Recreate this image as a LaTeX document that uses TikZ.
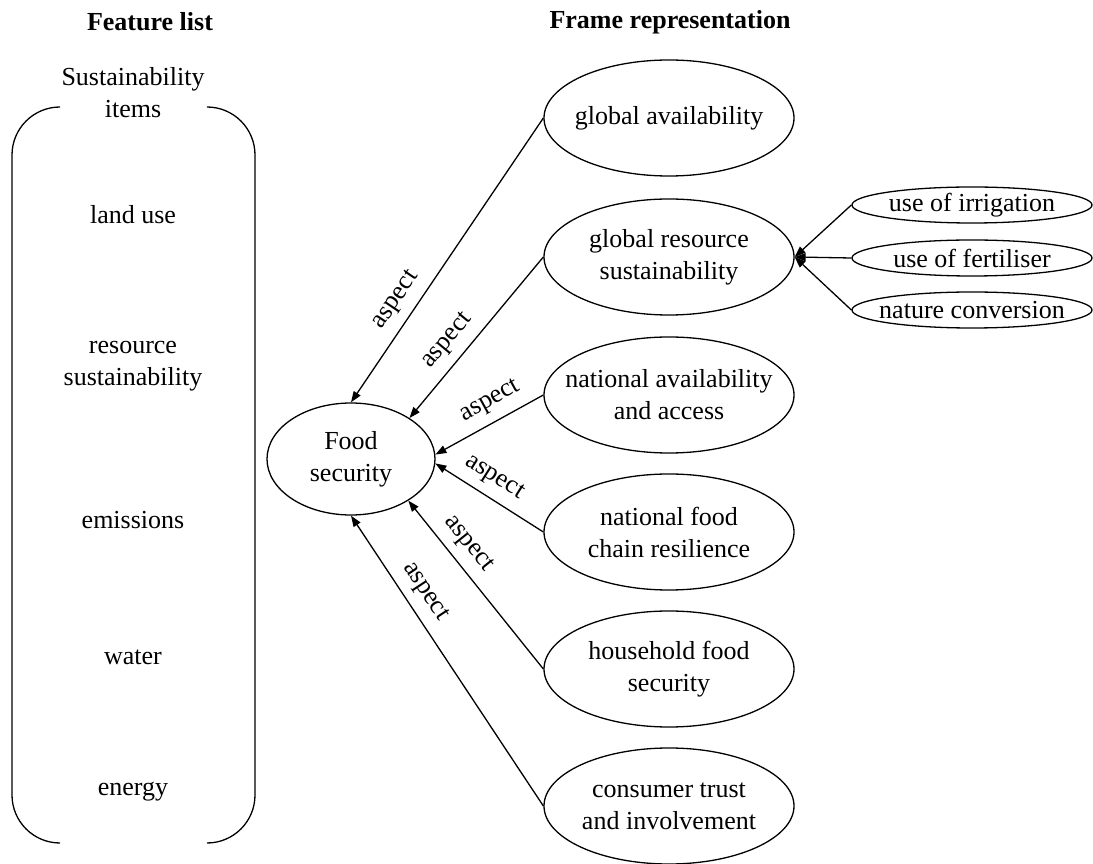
\documentclass[tikz,border=0pt]{standalone}
\usepackage{fontspec}
\setmainfont{Liberation Serif}
\usetikzlibrary{arrows.meta,shapes.geometric}
\begin{document}
\begin{tikzpicture}[x=1pt,y=1pt,
  every node/.style={font=\fontsize{26}{32}\selectfont},
  bigell/.style={draw, ellipse, line width=1.3pt, minimum width=250pt, minimum height=116pt, inner sep=0pt},
  foodell/.style={draw, ellipse, line width=1.3pt, minimum width=168pt, minimum height=112pt, inner sep=0pt},
  smallell/.style={draw, ellipse, line width=1.3pt, minimum width=240pt, minimum height=36pt, inner sep=0pt},
  txt/.style={align=center, inner sep=0pt},
  hdr/.style={font=\fontsize{26}{32}\selectfont\bfseries},
  arr/.style={line width=1.3pt, -{Triangle[length=11pt,width=8pt]}},
  lbl/.style={sloped, above=6pt, inner sep=3pt},
  brk/.style={line width=1.3pt}
]
\useasboundingbox (0,0) rectangle (1093,863);

% headers
\node[hdr] (h1) at (150,841) {Feature list};
\node[hdr] (h2) at (670,841) {Frame representation};

% feature list
\node[txt] (sust) at (133,770) {Sustainability\\items};
\node[txt] (land) at (133,648) {land use};
\node[txt] (res) at (133,497) {resource\\sustainability};
\node[txt] (emi) at (133,343) {emissions};
\node[txt] (wat) at (133,206) {water};
\node[txt] (ene) at (133,71) {energy};

% bracket
\draw[brk] (60,756) arc[start angle=90,end angle=180,radius=48] -- (12,68)
  arc[start angle=180,end angle=270,radius=48];
\draw[brk] (207,756) arc[start angle=90,end angle=0,radius=48] -- (255,68)
  arc[start angle=0,end angle=-90,radius=48];

% food security
\node[foodell] (food) at (351,404) {};
\node[txt] at (food) {Food\\security};

% frame ellipses
\node[bigell] (gav) at (669,745) {};
\node[txt] at (gav) {global availability};
\node[bigell] (gres) at (669,606) {};
\node[txt] at (gres) {global resource\\sustainability};
\node[bigell] (nav) at (669,468) {};
\node[txt] at (nav) {national availability\\and access};
\node[bigell] (nfc) at (669,331) {};
\node[txt] at (nfc) {national food\\chain resilience};
\node[bigell] (hfs) at (669,194) {};
\node[txt] at (hfs) {household food\\security};
\node[bigell] (cti) at (669,57) {};
\node[txt] at (cti) {consumer trust\\and involvement};

% small ellipses
\node[smallell] (irr) at (972,658) {};
\node[txt] at (irr) {use of irrigation};
\node[smallell] (fert) at (972,605) {};
\node[txt] at (fert) {use of fertiliser};
\node[smallell] (nat) at (972,553) {};
\node[txt] at (nat) {nature conversion};

% connectors
\draw[arr] (irr.west) -- (gres.east);
\draw[arr] (fert.west) -- (gres.east);
\draw[arr] (nat.west) -- (gres.east);

\draw[arr] (gav.west) -- node[lbl,pos=0.68] {aspect} (food.90);
\draw[arr] (gres.west) -- node[lbl,pos=0.60] {aspect} (food.35);
\draw[arr] (nav.west) -- node[lbl,pos=0.40] {aspect} (food.3);
\draw[arr] (nfc.west) -- node[lbl,pos=0.55] {aspect} (food.-3);
\draw[arr] (hfs.west) -- node[lbl,pos=0.67] {aspect} (food.-36);
\draw[arr] (cti.west) -- node[lbl,pos=0.70] {aspect} (food.-90);
\end{tikzpicture}
\end{document}
